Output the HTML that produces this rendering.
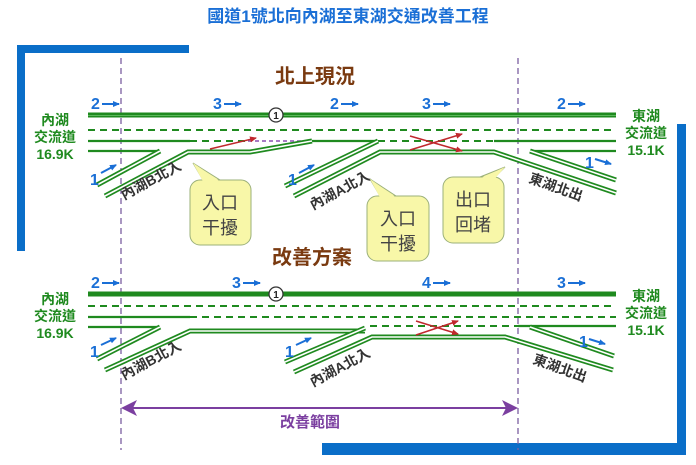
<!DOCTYPE html>
<html><head><meta charset="utf-8"><style>
html,body{margin:0;padding:0;background:#fff;}
svg{display:block;}
text{font-family:"Liberation Sans","Noto Sans CJK TC",sans-serif;}
.g{fill:#1f8a1f;font-weight:bold;font-size:14px;text-anchor:middle;}
.b{fill:#1a6fd6;font-weight:bold;font-size:16px;}
.r{fill:#333;font-weight:bold;font-size:14px;}
.c{fill:#444;font-size:18px;text-anchor:middle;}
.dl{stroke:#1f8a1f;stroke-width:5;fill:none;}
.dw{stroke:#fff;stroke-width:1.6;fill:none;}
.ln{stroke:#1f8a1f;stroke-width:2.2;fill:none;}
.ds{stroke:#1f8a1f;stroke-width:2;stroke-dasharray:7 5;fill:none;}
</style></head><body>
<svg width="696" height="465" viewBox="0 0 696 465" xmlns="http://www.w3.org/2000/svg">
<defs>
<marker id="ab" markerUnits="userSpaceOnUse" markerWidth="7" markerHeight="7" refX="6" refY="3.5" orient="auto"><path d="M0,0.5 L7,3.5 L0,6.5 z" fill="#1a6fd6"/></marker>
<marker id="ar" markerUnits="userSpaceOnUse" markerWidth="7" markerHeight="7" refX="6" refY="3.5" orient="auto"><path d="M0,0.5 L7,3.5 L0,6.5 z" fill="#c0282d"/></marker>
<marker id="ap" markerWidth="8" markerHeight="8" refX="7" refY="4" orient="auto"><path d="M0,0 L8,4 L0,8 L2,4 z" fill="#7b3fa0"/></marker>
<marker id="aps" markerWidth="8" markerHeight="8" refX="1" refY="4" orient="auto"><path d="M8,0 L0,4 L8,8 L6,4 z" fill="#7b3fa0"/></marker>
</defs>
<text x="348" y="22" text-anchor="middle" font-size="17" font-weight="bold" fill="#1a6fd6">國道1號北向內湖至東湖交通改善工程</text>
<rect x="17" y="45" width="172" height="8" fill="#0a6ec8"/>
<rect x="17" y="45" width="8" height="206" fill="#0a6ec8"/>
<rect x="677" y="124" width="9" height="331" fill="#0a6ec8"/>
<rect x="322" y="443" width="364" height="12" fill="#0a6ec8"/>
<line x1="121" y1="58" x2="121" y2="450" stroke="#7b5fa0" stroke-width="1.3" stroke-dasharray="6 4"/>
<line x1="518" y1="58" x2="518" y2="450" stroke="#7b5fa0" stroke-width="1.3" stroke-dasharray="6 4"/>

<text x="315" y="83" text-anchor="middle" font-size="20" font-weight="bold" fill="#7a3a10">北上現況</text>
<text x="312" y="264" text-anchor="middle" font-size="20" font-weight="bold" fill="#7a3a10">改善方案</text>

<!-- TOP -->
<line x1="88" y1="115" x2="616" y2="115" stroke="#1f8a1f" stroke-width="5"/>
<line x1="88" y1="115.5" x2="616" y2="115.5" stroke="#5cb85c" stroke-width="1"/>
<line x1="88" y1="130" x2="616" y2="130" class="ds"/>
<line x1="88" y1="141" x2="190" y2="141" class="ln"/>
<line x1="190" y1="141" x2="248" y2="141" class="ds"/>
<line x1="248" y1="141" x2="312" y2="141" stroke="#8a4fb0" stroke-width="1.5" stroke-dasharray="4 3"/>
<line x1="312" y1="141" x2="378" y2="141" class="ln"/>
<line x1="378" y1="141" x2="494" y2="141" class="ds"/>
<line x1="494" y1="141" x2="616" y2="141" class="ln"/>
<line x1="88" y1="151" x2="160" y2="151" class="ln"/>
<line x1="530" y1="151" x2="616" y2="151" class="ln"/>
<line x1="97" y1="185" x2="160" y2="151" class="dl"/><line x1="97" y1="185" x2="160" y2="151" class="dw"/>
<polyline points="105,196 188,152 250,152 312,141" class="dl"/><polyline points="105,196 188,152 250,152 312,141" class="dw"/>
<line x1="285" y1="186" x2="378" y2="141" class="dl"/><line x1="285" y1="186" x2="378" y2="141" class="dw"/>
<polyline points="294,196 380,152 494,152 616,193" class="dl"/><polyline points="294,196 380,152 494,152 616,193" class="dw"/>
<line x1="530" y1="151" x2="616" y2="180" class="dl"/><line x1="530" y1="151" x2="616" y2="180" class="dw"/>
<line x1="210" y1="149" x2="256" y2="138" stroke="#c0282d" stroke-width="1.5" marker-end="url(#ar)"/>
<line x1="410" y1="150" x2="462" y2="134" stroke="#c0282d" stroke-width="1.5" marker-end="url(#ar)"/>
<line x1="410" y1="136" x2="462" y2="151" stroke="#c0282d" stroke-width="1.5" marker-end="url(#ar)"/>
<circle cx="276" cy="115" r="7" fill="#fff" stroke="#333" stroke-width="1.3"/>
<text x="276" y="119" text-anchor="middle" font-size="10" font-weight="bold" fill="#222">1</text>
<text x="91" y="109" class="b">2</text><line x1="102" y1="104" x2="119" y2="104" stroke="#1a6fd6" stroke-width="2" marker-end="url(#ab)"/>
<text x="213" y="109" class="b">3</text><line x1="224" y1="104" x2="241" y2="104" stroke="#1a6fd6" stroke-width="2" marker-end="url(#ab)"/>
<text x="330" y="109" class="b">2</text><line x1="341" y1="104" x2="358" y2="104" stroke="#1a6fd6" stroke-width="2" marker-end="url(#ab)"/>
<text x="422" y="109" class="b">3</text><line x1="433" y1="104" x2="450" y2="104" stroke="#1a6fd6" stroke-width="2" marker-end="url(#ab)"/>
<text x="557" y="109" class="b">2</text><line x1="568" y1="104" x2="585" y2="104" stroke="#1a6fd6" stroke-width="2" marker-end="url(#ab)"/>
<text x="90" y="185" class="b">1</text><line x1="101" y1="173" x2="116" y2="165" stroke="#1a6fd6" stroke-width="2" marker-end="url(#ab)"/>
<text x="288" y="185" class="b">1</text><line x1="299" y1="173" x2="314" y2="165" stroke="#1a6fd6" stroke-width="2" marker-end="url(#ab)"/>
<text x="585" y="168" class="b">1</text><line x1="595" y1="159" x2="611" y2="164" stroke="#1a6fd6" stroke-width="2" marker-end="url(#ab)"/>
<text x="55" y="125" class="g">內湖</text><text x="55" y="142" class="g">交流道</text><text x="55" y="159" class="g">16.9K</text>
<text x="646" y="121" class="g">東湖</text><text x="646" y="138" class="g">交流道</text><text x="646" y="155" class="g">15.1K</text>
<text class="r" transform="translate(124,200) rotate(-28)">內湖B北入</text>
<text class="r" transform="translate(313,210) rotate(-28)">內湖A北入</text>
<text class="r" transform="translate(528,182) rotate(20)">東湖北出</text>
<path d="M203,180 L193,163 L220,180 Z" fill="#f8f7a8" stroke="#9bb07a" stroke-width="1"/>
<rect x="190" y="180" width="61" height="65" rx="10" fill="#f8f7a8" stroke="#9bb07a" stroke-width="1"/>
<path d="M203,181.5 L193,163 L220,181.5" fill="#f8f7a8" stroke="none"/>
<text x="220" y="209" class="c">入口</text><text x="220" y="234" class="c">干擾</text>
<path d="M380,196 L370,179 L396,196 Z" fill="#f8f7a8" stroke="#9bb07a" stroke-width="1"/>
<rect x="367" y="196" width="62" height="65" rx="10" fill="#f8f7a8" stroke="#9bb07a" stroke-width="1"/>
<path d="M380,197.5 L370,179 L396,197.5" fill="#f8f7a8"/>
<text x="398" y="225" class="c">入口</text><text x="398" y="250" class="c">干擾</text>
<path d="M480,177 L505,167 L495,177 Z" fill="#f8f7a8" stroke="#9bb07a" stroke-width="1"/>
<rect x="443" y="177" width="61" height="66" rx="10" fill="#f8f7a8" stroke="#9bb07a" stroke-width="1"/>
<path d="M480,178.5 L505,167 L495,178.5" fill="#f8f7a8"/>
<text x="473" y="206" class="c">出口</text><text x="473" y="231" class="c">回堵</text>

<!-- BOTTOM -->
<line x1="88" y1="294" x2="616" y2="294" stroke="#1f8a1f" stroke-width="5"/>
<line x1="88" y1="306" x2="616" y2="306" class="ds"/>
<line x1="88" y1="317" x2="190" y2="317" class="ln"/>
<line x1="190" y1="317" x2="616" y2="317" class="ds"/>
<line x1="88" y1="327" x2="160" y2="327" class="ln"/>
<line x1="370" y1="326" x2="518" y2="326" class="ds"/>
<line x1="518" y1="326" x2="616" y2="326" class="ln"/>
<line x1="97" y1="359" x2="160" y2="327" class="dl"/><line x1="97" y1="359" x2="160" y2="327" class="dw"/>
<polyline points="105,370 190,331 365,331" class="dl"/><polyline points="105,370 190,331 365,331" class="dw"/>
<line x1="285" y1="362" x2="365" y2="328" class="dl"/><line x1="285" y1="362" x2="365" y2="328" class="dw"/>
<polyline points="294,372 372,337 505,337 613,370" class="dl"/><polyline points="294,372 372,337 505,337 613,370" class="dw"/>
<line x1="530" y1="327" x2="614" y2="356" class="dl"/><line x1="530" y1="327" x2="614" y2="356" class="dw"/>
<line x1="416" y1="335" x2="458" y2="321" stroke="#c0282d" stroke-width="1.5" marker-end="url(#ar)"/>
<line x1="416" y1="321" x2="458" y2="334" stroke="#c0282d" stroke-width="1.5" marker-end="url(#ar)"/>
<circle cx="276" cy="294" r="7" fill="#fff" stroke="#333" stroke-width="1.3"/>
<text x="276" y="298" text-anchor="middle" font-size="10" font-weight="bold" fill="#222">1</text>
<text x="91" y="288" class="b">2</text><line x1="102" y1="283" x2="119" y2="283" stroke="#1a6fd6" stroke-width="2" marker-end="url(#ab)"/>
<text x="232" y="288" class="b">3</text><line x1="243" y1="283" x2="260" y2="283" stroke="#1a6fd6" stroke-width="2" marker-end="url(#ab)"/>
<text x="422" y="288" class="b">4</text><line x1="433" y1="283" x2="450" y2="283" stroke="#1a6fd6" stroke-width="2" marker-end="url(#ab)"/>
<text x="557" y="288" class="b">3</text><line x1="568" y1="283" x2="585" y2="283" stroke="#1a6fd6" stroke-width="2" marker-end="url(#ab)"/>
<text x="90" y="357" class="b">1</text><line x1="101" y1="345" x2="116" y2="338" stroke="#1a6fd6" stroke-width="2" marker-end="url(#ab)"/>
<text x="285" y="357" class="b">1</text><line x1="296" y1="345" x2="311" y2="338" stroke="#1a6fd6" stroke-width="2" marker-end="url(#ab)"/>
<text x="579" y="347" class="b">1</text><line x1="589" y1="339" x2="605" y2="344" stroke="#1a6fd6" stroke-width="2" marker-end="url(#ab)"/>
<text x="55" y="304" class="g">內湖</text><text x="55" y="321" class="g">交流道</text><text x="55" y="338" class="g">16.9K</text>
<text x="646" y="301" class="g">東湖</text><text x="646" y="318" class="g">交流道</text><text x="646" y="335" class="g">15.1K</text>
<text class="r" transform="translate(124,380) rotate(-28)">內湖B北入</text>
<text class="r" transform="translate(313,387) rotate(-28)">內湖A北入</text>
<text class="r" transform="translate(532,363) rotate(20)">東湖北出</text>

<line x1="123" y1="408" x2="516" y2="408" stroke="#7b3fa0" stroke-width="2" marker-end="url(#ap)" marker-start="url(#aps)"/>
<text x="310" y="427" text-anchor="middle" font-size="15" font-weight="bold" fill="#7b3fa0">改善範圍</text>
</svg>
</body></html>
